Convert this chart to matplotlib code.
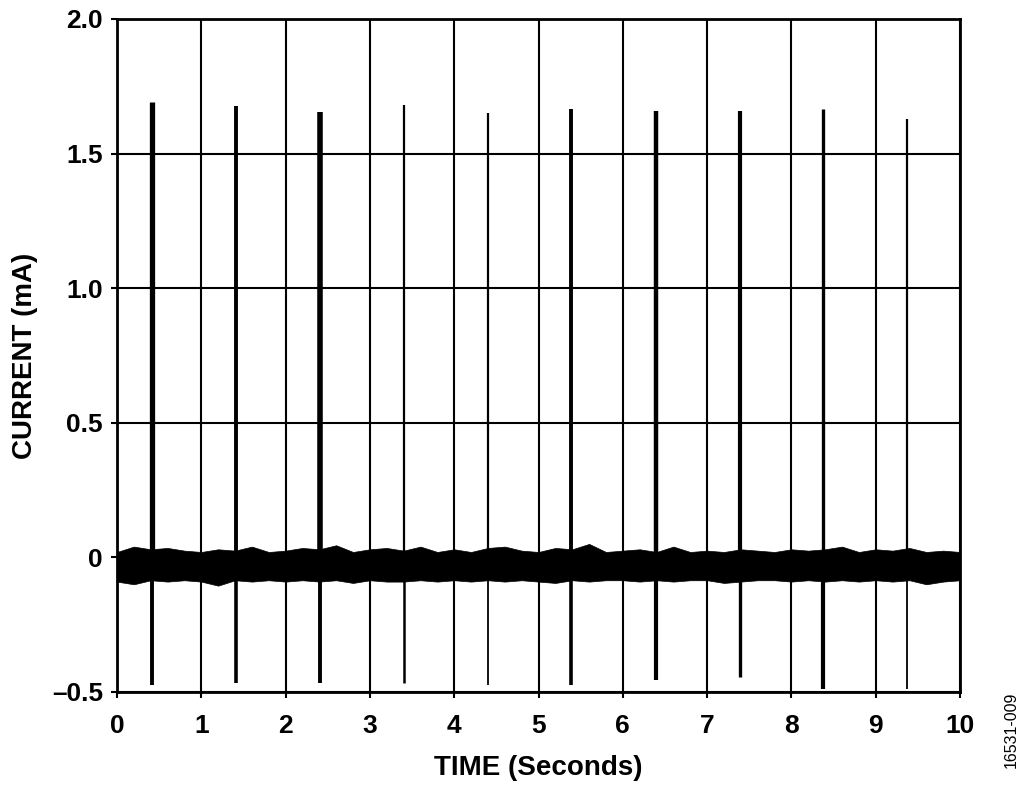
import numpy as np
import matplotlib
matplotlib.use("Agg")
import matplotlib.pyplot as plt

# ---- data ----
band_t = np.round(np.arange(0, 10.01, 0.2), 2)
band_upper = [0.02, 0.04, 0.03, 0.035, 0.025, 0.02, 0.03, 0.025, 0.04, 0.02,
              0.025, 0.035, 0.03, 0.045, 0.02, 0.03, 0.035, 0.025, 0.04, 0.02,
              0.03, 0.02, 0.035, 0.04, 0.025, 0.02, 0.035, 0.03, 0.05, 0.02,
              0.025, 0.03, 0.02, 0.04, 0.02, 0.025, 0.02, 0.03, 0.025, 0.02,
              0.03, 0.025, 0.03, 0.04, 0.02, 0.03, 0.025, 0.035, 0.02, 0.025, 0.02]
band_lower = [-0.09, -0.10, -0.085, -0.09, -0.085, -0.09, -0.105, -0.085, -0.09, -0.085,
              -0.09, -0.085, -0.09, -0.085, -0.095, -0.085, -0.09, -0.09, -0.085, -0.09,
              -0.085, -0.09, -0.085, -0.09, -0.085, -0.09, -0.095, -0.085, -0.09, -0.085,
              -0.085, -0.09, -0.085, -0.09, -0.085, -0.085, -0.095, -0.09, -0.085, -0.085,
              -0.09, -0.085, -0.09, -0.085, -0.09, -0.085, -0.09, -0.085, -0.10, -0.09, -0.085]

spike_t = [0.415, 1.41, 2.41, 3.40, 4.405, 5.38, 6.39, 7.385, 8.37, 9.37]
spike_peak = [1.69, 1.677, 1.656, 1.682, 1.65, 1.664, 1.657, 1.657, 1.667, 1.63]
spike_min = [-0.475, -0.468, -0.468, -0.468, -0.475, -0.475, -0.457, -0.444, -0.489, -0.489]

xticks = [0, 1, 2, 3, 4, 5, 6, 7, 8, 9, 10]
yticks = [-0.5, 0, 0.5, 1.0, 1.5, 2.0]
ytick_labels = ["\u20130.5", "0", "0.5", "1.0", "1.5", "2.0"]

# ---- styles ----
spike_w_up = [3.8, 2.8, 4.0, 1.6, 1.6, 2.8, 3.2, 3.0, 2.4, 1.6]
spike_w_dn = [2.8, 2.6, 2.8, 1.8, 1.3, 2.6, 3.0, 2.4, 3.0, 1.3]

plt.rcParams['font.family'] = ['Liberation Sans', 'DejaVu Sans']

fig = plt.figure(figsize=(10.29, 7.91), dpi=100)
ax = fig.add_axes([0.1137, 0.1252, 0.933 - 0.1137, 0.976 - 0.1252])

ax.set_xlim(0, 10)
ax.set_ylim(-0.5, 2.0)

ax.grid(True, color='black', linewidth=1.5, zorder=0)
ax.set_axisbelow(True)

ax.fill_between(band_t, band_lower, band_upper, color='black', linewidth=0.5, zorder=3)

for t, p, m, wu, wd in zip(spike_t, spike_peak, spike_min, spike_w_up, spike_w_dn):
    ax.vlines(t, 0.0, p, colors='black', linewidth=wu, zorder=4)
    ax.vlines(t, m, 0.0, colors='black', linewidth=wd, zorder=4)

ax.set_xticks(xticks)
ax.set_xticklabels([str(v) for v in xticks])
ax.set_yticks(yticks)
ax.set_yticklabels(ytick_labels)
ax.tick_params(direction='out', length=4, width=1.5, labelsize=19)
ax.tick_params(axis='x', pad=12)
ax.tick_params(axis='y', pad=6)
for lab in ax.get_xticklabels() + ax.get_yticklabels():
    lab.set_fontweight('bold')

for s in ax.spines.values():
    s.set_linewidth(2)
    s.set_color('black')

ax.set_xlabel("TIME (Seconds)", fontsize=20, fontweight='bold', labelpad=12)
ax.set_ylabel("CURRENT (mA)", fontsize=20, fontweight='bold', labelpad=10)

fig.text(0.983, 0.077, "16531-009", rotation=90, fontsize=11.5, ha='center', va='center')

fig.savefig("out.png", dpi=100)
